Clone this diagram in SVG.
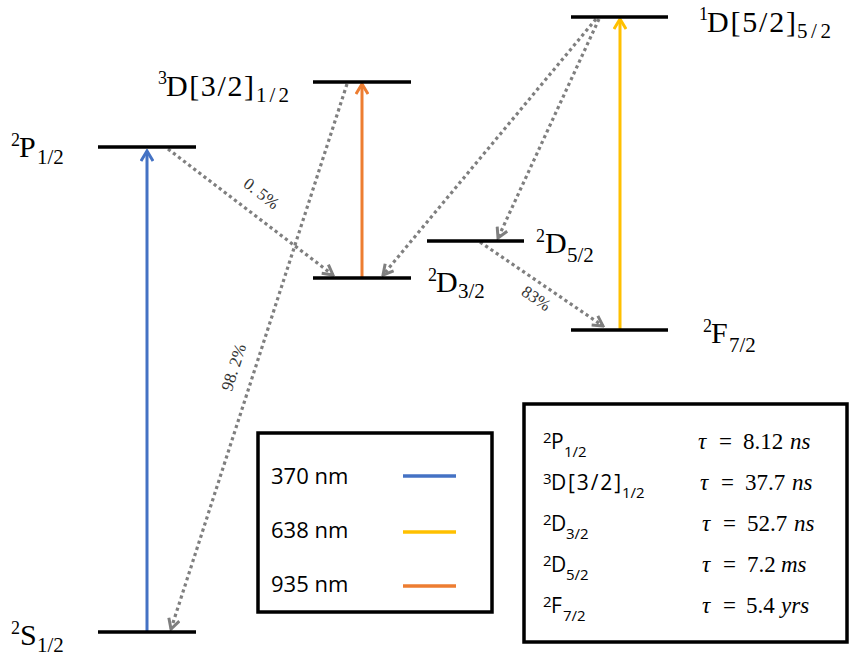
<svg xmlns="http://www.w3.org/2000/svg" width="850" height="657" viewBox="0 0 850 657">
<style>
.lvl{stroke:#000;stroke-width:3.5;fill:none}
.lab{font-family:"Liberation Serif",serif;fill:#000}
.m{font-size:30px}
.sp{font-size:18px}
.sb{font-size:21px}
.dot{stroke:#7f7f7f;stroke-width:3.2;stroke-dasharray:3.2 3.2;fill:none}
.pct{font-family:"Liberation Serif",serif;font-size:17px;fill:#333;text-anchor:middle}
.box{fill:none;stroke:#000;stroke-width:3.5}
.leg{font-family:"Open Sans","Noto Sans",sans-serif;font-size:22px;fill:#000}
.tb{font-family:"Open Sans","Noto Sans",sans-serif;fill:#000}
.tbm{font-size:21px}
.tbs{font-size:15px}
.eq{font-family:"Liberation Serif",serif;font-size:23px;fill:#000}
.it{font-style:italic}
</style>
<defs>
<marker id="ag" markerUnits="userSpaceOnUse" viewBox="0 0 14 14" markerWidth="14" markerHeight="14" refX="12" refY="7" orient="auto">
<path d="M2,1.5 L12,7 L2,12.5" fill="none" stroke="#7f7f7f" stroke-width="3"/>
</marker>
<marker id="ab" markerUnits="userSpaceOnUse" viewBox="0 0 14 14" markerWidth="14" markerHeight="14" refX="12" refY="7" orient="auto">
<path d="M2,1 L12,7 L2,13" fill="none" stroke="#4472c4" stroke-width="3"/>
</marker>
<marker id="ao" markerUnits="userSpaceOnUse" viewBox="0 0 14 14" markerWidth="14" markerHeight="14" refX="12" refY="7" orient="auto">
<path d="M2,1 L12,7 L2,13" fill="none" stroke="#ed7d31" stroke-width="3"/>
</marker>
<marker id="ay" markerUnits="userSpaceOnUse" viewBox="0 0 14 14" markerWidth="14" markerHeight="14" refX="12" refY="7" orient="auto">
<path d="M2,1 L12,7 L2,13" fill="none" stroke="#ffc000" stroke-width="3"/>
</marker>
</defs>
<rect width="850" height="657" fill="#fff"/>

<g id="connectors">
<line x1="147" y1="631" x2="147" y2="151" stroke="#4472c4" stroke-width="3" marker-end="url(#ab)"/>
<line x1="362" y1="277" x2="362" y2="84" stroke="#ed7d31" stroke-width="3" marker-end="url(#ao)"/>
<line x1="620" y1="329" x2="620" y2="19" stroke="#ffc000" stroke-width="3" marker-end="url(#ay)"/>
<line class="dot" x1="168" y1="149" x2="333" y2="275" marker-end="url(#ag)"/>
<line class="dot" x1="347" y1="84" x2="171" y2="629" marker-end="url(#ag)"/>
<line class="dot" x1="596" y1="19" x2="383" y2="275" marker-end="url(#ag)"/>
<line class="dot" x1="599" y1="19" x2="498" y2="238" marker-end="url(#ag)"/>
<line class="dot" x1="480" y1="242" x2="603" y2="326" marker-end="url(#ag)"/>
<text class="pct" transform="translate(258,198) rotate(37.8)">0. 5%</text>
<text class="pct" transform="translate(239,369) rotate(-72.2)">98. 2%</text>
<text class="pct" transform="translate(533,303) rotate(34.6)">83%</text>
</g>

<g id="S12">
<line class="lvl" x1="98" y1="632" x2="196" y2="632"/>
<text class="lab"><tspan class="sp" x="11" y="634">2</tspan><tspan class="m" x="20" y="645">S</tspan><tspan class="sb" x="37" y="652">1/2</tspan></text>
</g>
<g id="P12">
<line class="lvl" x1="98" y1="147" x2="196" y2="147"/>
<text class="lab"><tspan class="sp" x="11" y="146">2</tspan><tspan class="m" x="19" y="157">P</tspan><tspan class="sb" x="37" y="164">1/2</tspan></text>
</g>
<g id="D32b">
<line class="lvl" x1="313" y1="82" x2="411" y2="82"/>
<text class="lab"><tspan class="sp" x="158" y="84">3</tspan><tspan class="m" x="166" y="96" textLength="88">D[3/2]</tspan><tspan class="sb" x="256" y="102" textLength="33">1/2</tspan></text>
</g>
<g id="D32">
<line class="lvl" x1="313" y1="278" x2="411" y2="278"/>
<text class="lab"><tspan class="sp" x="428" y="281">2</tspan><tspan class="m" x="436" y="292">D</tspan><tspan class="sb" x="458" y="298">3/2</tspan></text>
</g>
<g id="D52">
<line class="lvl" x1="427" y1="241" x2="524" y2="241"/>
<text class="lab"><tspan class="sp" x="536" y="242">2</tspan><tspan class="m" x="545" y="253">D</tspan><tspan class="sb" x="567" y="262">5/2</tspan></text>
</g>
<g id="D52b">
<line class="lvl" x1="571" y1="17" x2="668" y2="17"/>
<text class="lab"><tspan class="sp" x="699" y="20">1</tspan><tspan class="m" x="707" y="32" textLength="89">D[5/2]</tspan><tspan class="sb" x="797" y="38" textLength="34">5/2</tspan></text>
</g>
<g id="F72">
<line class="lvl" x1="571" y1="330" x2="668" y2="330"/>
<text class="lab"><tspan class="sp" x="703" y="332">2</tspan><tspan class="m" x="711" y="343">F</tspan><tspan class="sb" x="729" y="352">7/2</tspan></text>
</g>

<g id="legend">
<rect class="box" x="258" y="433" width="234" height="179"/>
<text class="leg" x="271" y="484">370 nm</text>
<text class="leg" x="271" y="538">638 nm</text>
<text class="leg" x="271" y="592">935 nm</text>
<line x1="403" y1="476" x2="456" y2="476" stroke="#4472c4" stroke-width="3.5"/>
<line x1="403" y1="532" x2="456" y2="532" stroke="#ffc000" stroke-width="3.5"/>
<line x1="403" y1="586" x2="456" y2="586" stroke="#ed7d31" stroke-width="3.5"/>
</g>

<g id="lifetimes">
<rect class="box" x="524" y="404" width="323" height="238"/>
<text class="tb"><tspan class="tbs" x="543" y="443">2</tspan><tspan class="tbm" x="551" y="449">P</tspan><tspan class="tbs" x="564" y="457">1/2</tspan></text>
<text class="tb"><tspan class="tbs" x="543" y="484">3</tspan><tspan class="tbm" x="551" y="490" textLength="70">D[3/2]</tspan><tspan class="tbs" x="622" y="498">1/2</tspan></text>
<text class="tb"><tspan class="tbs" x="543" y="525">2</tspan><tspan class="tbm" x="551" y="531">D</tspan><tspan class="tbs" x="566" y="539">3/2</tspan></text>
<text class="tb"><tspan class="tbs" x="543" y="566">2</tspan><tspan class="tbm" x="551" y="572">D</tspan><tspan class="tbs" x="566" y="580">5/2</tspan></text>
<text class="tb"><tspan class="tbs" x="543" y="607">2</tspan><tspan class="tbm" x="551" y="613">F</tspan><tspan class="tbs" x="563" y="621">7/2</tspan></text>
<text class="eq" y="449"><tspan class="it" x="698">τ</tspan><tspan x="719">=</tspan><tspan x="743">8.12</tspan><tspan class="it" x="790">ns</tspan></text>
<text class="eq" y="490"><tspan class="it" x="700">τ</tspan><tspan x="721">=</tspan><tspan x="745">37.7</tspan><tspan class="it" x="792">ns</tspan></text>
<text class="eq" y="531"><tspan class="it" x="702">τ</tspan><tspan x="723">=</tspan><tspan x="747">52.7</tspan><tspan class="it" x="794">ns</tspan></text>
<text class="eq" y="572"><tspan class="it" x="702">τ</tspan><tspan x="723">=</tspan><tspan x="747">7.2</tspan><tspan class="it" x="781">ms</tspan></text>
<text class="eq" y="613"><tspan class="it" x="702">τ</tspan><tspan x="723">=</tspan><tspan x="746">5.4</tspan><tspan class="it" x="781">yrs</tspan></text>
</g>
</svg>
